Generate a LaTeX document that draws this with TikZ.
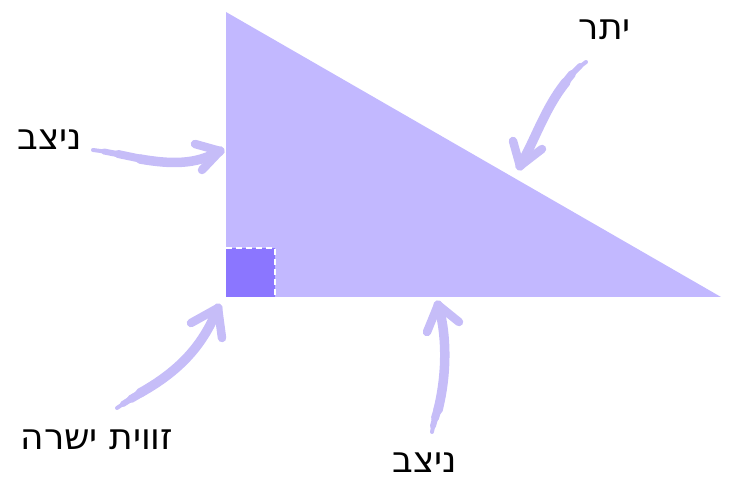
\documentclass[tikz,border=0pt]{standalone}
\usepackage{fontspec}
\newfontfamily\hebfont[Script=Hebrew]{DejaVu Sans}
\TeXXeTstate=1
\definecolor{trifill}{HTML}{C2B8FF}
\definecolor{sqfill}{HTML}{8B76FF}
\definecolor{arrowc}{HTML}{C6BDF8}
\tikzset{
  lbl/.style={font=\hebfont\fontsize{36}{40}\selectfont, text=black, inner sep=0pt},
  shaft/.style={draw=arrowc, line width=9.5pt, line cap=round, line join=round},
  barb/.style={draw=arrowc, line width=8.5pt, line cap=round, line join=round}
}
\begin{document}
\begin{tikzpicture}[x=1pt,y=-1pt]
\useasboundingbox (0,0) rectangle (729,481);
% triangle
\coordinate (A) at (226,12);
\coordinate (B) at (226,297);
\coordinate (C) at (721,297);
\fill[trifill] (A) -- (B) -- (C) -- cycle;
% right angle square
\coordinate (S1) at (226,248);
\coordinate (S2) at (275,248);
\coordinate (S3) at (275,297);
\fill[sqfill] (S1) rectangle (S3);
\draw[white, line width=2pt, dash pattern=on 6pt off 4pt] (S1) -- (S2) -- (S3);
% labels
\node[lbl] (leg1) at (50,140) {\beginR ניצב\endR};
\node[lbl] (hyp) at (605,30) {\beginR יתר\endR};
\node[lbl] (ra) at (97,440) {\beginR זווית ישרה\endR};
\node[lbl] (leg2) at (425,463) {\beginR ניצב\endR};
% arrow coordinates
\coordinate (a1s) at (93,150);
\coordinate (a1t) at (220,151);
\coordinate (a2s) at (586,62);
\coordinate (a2t) at (520,166);
\coordinate (a3s) at (117,408);
\coordinate (a3t) at (218,308);
\coordinate (a4s) at (432,432);
\coordinate (a4t) at (438,305);
% arrow 1 (left leg)
\draw[shaft, line width=4pt] (a1s) -- (108,152);
\draw[shaft, line width=6pt] (104,151.5) -- (122,155);
\draw[shaft, line width=8pt] (118,154) -- (142,159);
\draw[shaft] (140,159) .. controls (180,166) and (200,162) .. (a1t);
\draw[barb] (195,144) -- (a1t) -- (202,170);
% arrow 2 (hypotenuse)
\draw[shaft, line width=4pt] (a2s) -- (578,68);
\draw[shaft, line width=6pt] (580,66) -- (570,76);
\draw[shaft, line width=8pt] (572,74) -- (564,84);
\draw[shaft] (566,82) .. controls (545,108) and (535,140) .. (a2t);
\draw[barb] (513,141) -- (a2t) -- (542,149);
% arrow 3 (right angle)
\draw[shaft, line width=4pt] (a3s) -- (126,402);
\draw[shaft, line width=6pt] (123,404) -- (134,397);
\draw[shaft, line width=8pt] (131,399) -- (143,392);
\draw[shaft] (140,393) .. controls (185,368) and (205,340) .. (a3t);
\draw[barb] (191,323) -- (a3t) -- (222,338);
% arrow 4 (bottom leg)
\draw[shaft, line width=4pt] (a4s) -- (434,422);
\draw[shaft, line width=6pt] (433,426) -- (436,415);
\draw[shaft, line width=8pt] (435,418) -- (438,408);
\draw[shaft] (438,410) .. controls (448,370) and (446,330) .. (a4t);
\draw[barb] (427,332) -- (a4t) -- (459,322);
\end{tikzpicture}
\end{document}
